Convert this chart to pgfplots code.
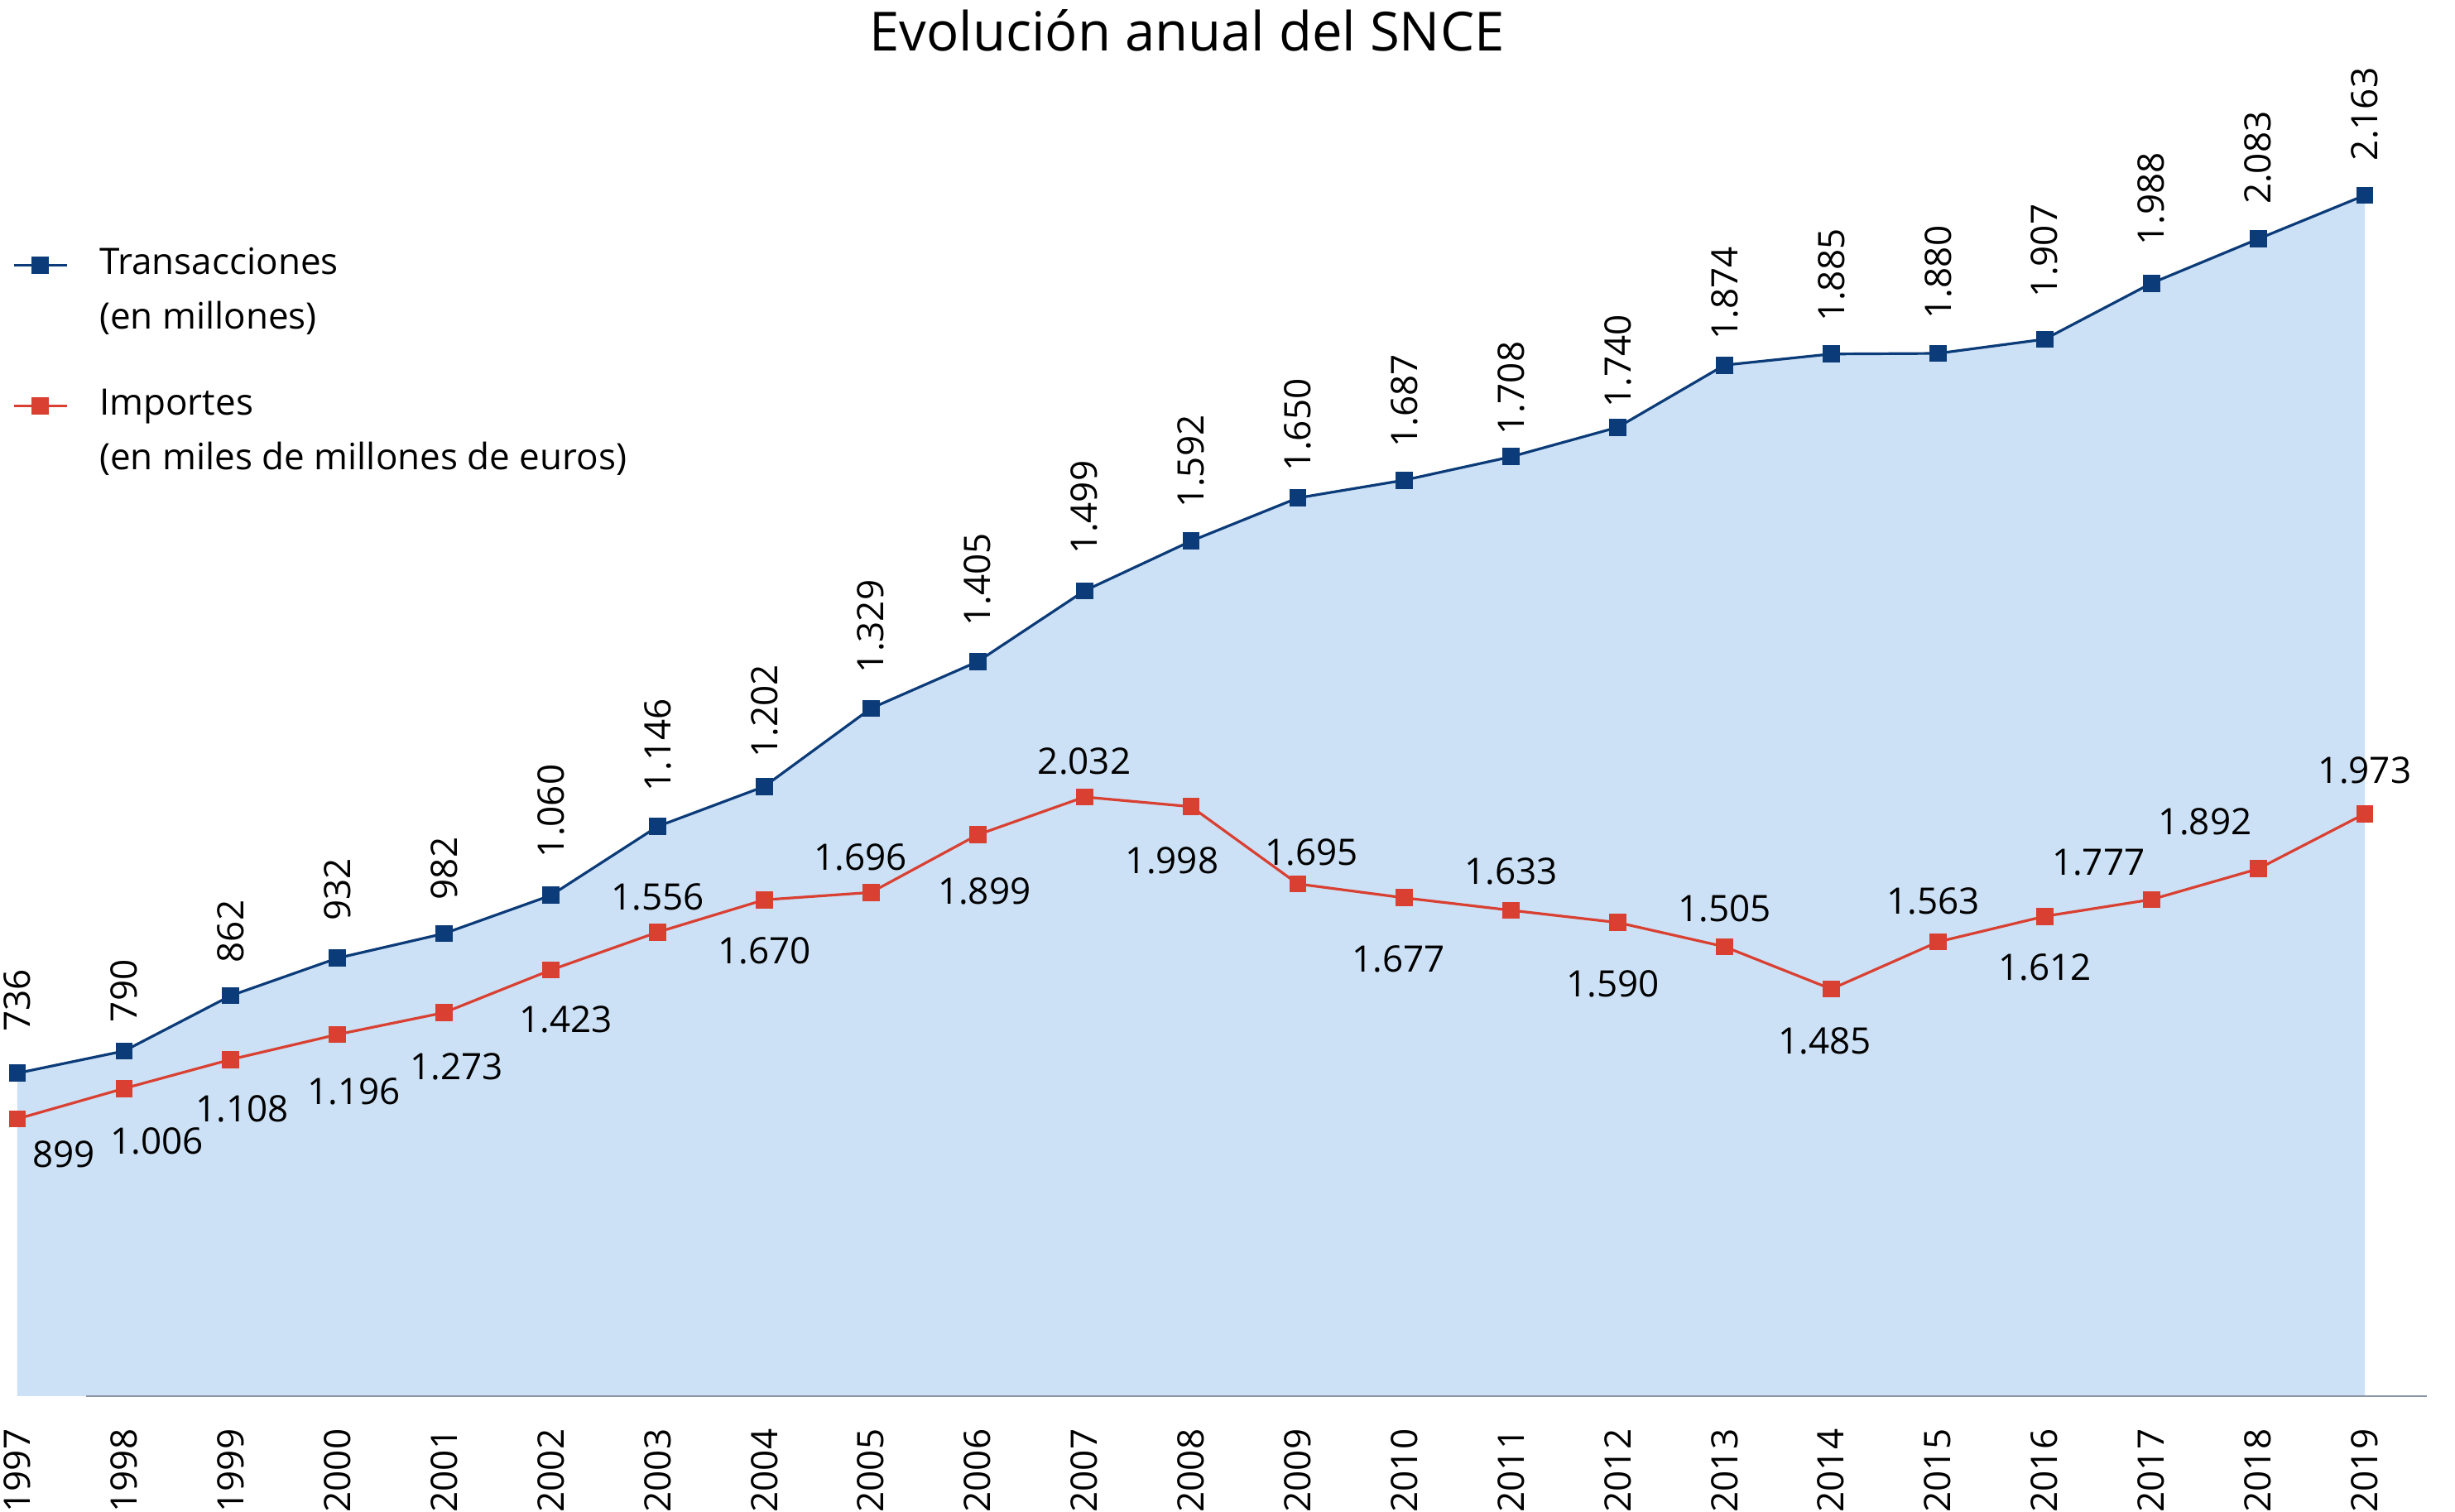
\documentclass[border=0pt]{standalone}
\usepackage{fontspec}
\setmainfont{Open Sans}
\usepackage{pgfplots}
\usepackage{pgfplotstable}
\pgfplotsset{compat=1.18}

\definecolor{navy}{RGB}{11,59,120}
\definecolor{rojo}{RGB}{217,64,50}
\definecolor{relleno}{RGB}{204,225,245}
\definecolor{ejegris}{RGB}{140,150,165}

% Transacciones (en millones): y = drawn level, lab = printed value, gap = label offset (pt)
\pgfplotstableread{
year y    lab   gap
1997 736  736   12.25
1998 772  790   8.5
1999 862  862   9.75
2000 923  932   11
2001 963  982   10
2002 1025 1.060 11.25
2003 1137 1.146 10.25
2004 1202 1.202 8.5
2005 1329 1.329 10.5
2006 1405 1.405 10.5
2007 1520 1.499 11
2008 1601 1.592 9.75
2009 1671 1.650 7.75
2010 1700 1.687 9.75
2011 1738 1.708 6.5
2012 1786 1.740 5.75
2013 1887 1.874 7.5
2014 1905 1.885 9.5
2015 1906 1.880 10.25
2016 1929 1.907 12.5
2017 2020 1.988 11.25
2018 2092 2.083 10.25
2019 2163 2.163 10.25
}\transacciones

% Importes (miles de millones de euros): dx, dy = label offset (pt)
\pgfplotstableread{
year y    lab   dx    dy
1997 899  899   14    -10.75
1998 1006 1.006 10    -16
1999 1108 1.108 3.5   -15
2000 1196 1.196 5     -17.25
2001 1273 1.273 3.75  -16.25
2002 1423 1.423 4.5   -15
2003 1556 1.556 0     10.75
2004 1670 1.670 0     -15.5
2005 1696 1.696 -3.25 10.5
2006 1899 1.899 2     -17
2007 2032 2.032 0     10.75
2008 1998 1.998 -5.75 -16.25
2009 1726 1.695 4.25  9.5
2010 1677 1.677 -1.75 -18.5
2011 1633 1.633 0     11.75
2012 1590 1.590 -1.5  -18.5
2013 1505 1.505 0     11.5
2014 1356 1.485 -2    -15.75
2015 1522 1.563 -1.5  12.25
2016 1612 1.612 0     -15.5
2017 1671 1.777 -16   11.25
2018 1779 1.892 -16   14.25
2019 1973 1.973 0     13
}\importes

% 1pt in data units: x 0.03103 years, blue y 5.381, red y 11.65
\pgfplotsset{
    base/.style={
        scale only axis,
        width=709pt, height=362.75pt,
        at={(5.25pt,35pt)}, anchor=south west,
        xmin=1997, xmax=2019,
        clip=false,
    },
    leyenda/.style={
        legend cell align=left,
        legend image code/.code={
            \draw[##1, mark repeat=2, mark phase=2]
                plot coordinates {(0pt,-0.8pt) (8pt,-0.8pt) (16pt,-0.8pt)};
        },
        legend style={
            draw=none, fill=none, inner sep=0pt, outer sep=0pt,
            anchor=north west,
            font=\fontsize{11}{13}\selectfont,
            row sep=5.5pt, column sep=9.5pt,
            nodes={inner sep=0pt, text height=9pt, text depth=2pt},
        },
    },
    serie/.style={
        #1, line width=0.8pt,
        mark=square*, mark size=2.2pt, mark options={fill=#1},
    },
    rotulos/.style={
        forget plot, only marks, mark=*, mark size=0pt,
        mark options={draw=none, fill=none},
        point meta=explicit symbolic,
        nodes near coords={\pgfplotspointmeta},
        every node near coord/.append style={inner sep=0pt, text=black,
            font=\fontsize{11}{13}\selectfont, #1},
    },
}

\begin{document}
\begin{tikzpicture}
    % area under Transacciones
    \begin{axis}[base, hide axis, clip=true, ymin=211, ymax=2163]
        \addplot[draw=none, fill=relleno] table[x=year, y=y] {\transacciones} \closedcycle;
    \end{axis}

    % Transacciones
    \begin{axis}[
            base, leyenda,
            ymin=211, ymax=2163,
            axis line style={draw=none},
            major tick length=0pt,
            tick style={draw=none},
            ytick=\empty,
            xtick={1997,...,2019},
            xticklabels={1997,1998,1999,2000,2001,2002,2003,2004,2005,2006,2007,2008,
                2009,2010,2011,2012,2013,2014,2015,2016,2017,2018,2019},
            xticklabel style={rotate=90, anchor=east, inner sep=0pt,
                font=\fontsize{11}{13}\selectfont},
            xticklabel shift=9.75pt,
            legend style={at={(-0.0021,0.9589)}},
        ]
        \draw[ejegris, line width=0.6pt] (axis cs:1997.644,211) -- (axis cs:2019.58,211);
        \addplot[serie=navy, forget plot] table[x=year, y=y] {\transacciones};
        \addplot[rotulos={rotate=90, anchor=west}]
            table[x=year, y expr=\thisrow{y}+5.381*\thisrow{gap}, meta=lab] {\transacciones};
        \addlegendimage{serie=navy}
        \addlegendentry{Transacciones}
        \addlegendimage{empty legend}
        \addlegendentry{(en millones)}
    \end{axis}

    % Importes
    \begin{axis}[
            base, leyenda, hide axis,
            ymin=-77, ymax=4150,
            legend style={at={(-0.0021,0.8418)}},
        ]
        \addplot[serie=rojo, forget plot] table[x=year, y=y] {\importes};
        \addplot[rotulos={anchor=center}]
            table[x expr=\thisrow{year}+0.03103*\thisrow{dx},
                  y expr=\thisrow{y}+11.65*\thisrow{dy}, meta=lab] {\importes};
        \addlegendimage{serie=rojo}
        \addlegendentry{Importes}
        \addlegendimage{empty legend}
        \addlegendentry{(en miles de millones de euros)}
    \end{axis}

    \node[anchor=base, inner sep=0pt, font=\fontsize{16.3}{19}\selectfont]
        at (358.5pt,441.4pt) {Evolución anual del SNCE};

    \pgfresetboundingbox
    \path[use as bounding box] (0,0) rectangle (741.5pt,456.75pt);
\end{tikzpicture}
\end{document}
